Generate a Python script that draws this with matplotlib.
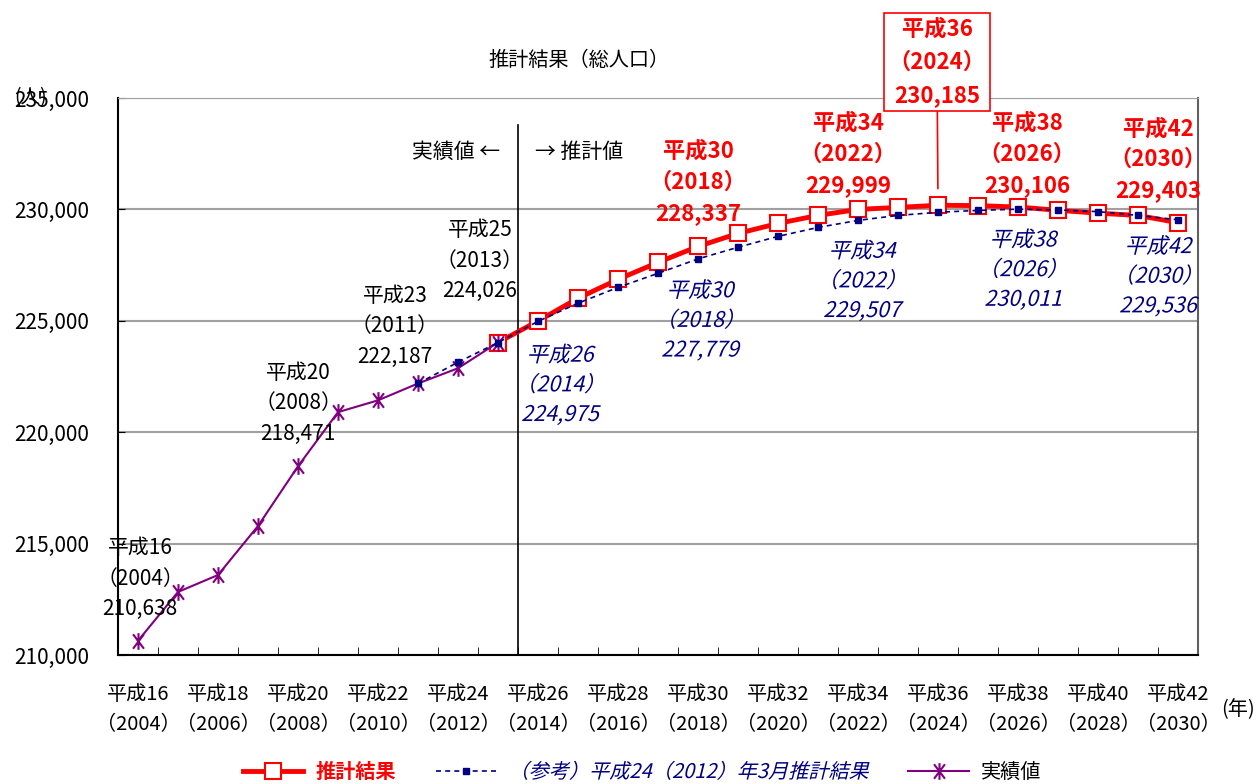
import matplotlib
matplotlib.use("Agg")
import matplotlib.pyplot as plt
from matplotlib.patheffects import AbstractPathEffect
from matplotlib.transforms import Affine2D
from matplotlib.path import Path

plt.rcParams['font.family'] = ['Noto Sans CJK JP', 'DejaVu Sans']

# data (人)
years = list(range(2004, 2031))
actual_years = list(range(2004, 2014))
actual = [210638, 212830, 213590, 215790, 218471, 220900, 221430, 222187, 222870, 224026]
est_years = list(range(2013, 2031))
estimate = [224026, 224990, 226010, 226860, 227620, 228337, 228920, 229370, 229730,
            229999, 230090, 230185, 230170, 230106, 229960, 229830, 229730, 229403]
ref_years = list(range(2011, 2031))
reference = [222187, 223140, 224026, 224975, 225790, 226500, 227130, 227779, 228300,
             228790, 229190, 229507, 229730, 229870, 229955, 230011, 229975, 229900,
             229730, 229536]

actual_lab = [2004, 2008, 2011, 2013]
est_lab = [2018, 2022, 2026, 2030]
ref_lab = [2014, 2018, 2022, 2026, 2030]
peak_year = 2024


class Slant(AbstractPathEffect):
    # fake italic: the CJK font has no italic face
    def draw_path(self, renderer, gc, tpath, affine, rgbFace=None):
        renderer.draw_path(gc, tpath, Affine2D().skew_deg(14, 0) + affine, rgbFace)


def idx(y):
    return years.index(y)


def val(ys, vs, y):
    return vs[ys.index(y)]


def heisei(y):
    return f"平成{y - 1988}\n（{y}）"


ast = Path([(-0.75, -1), (0.75, 1), (0.75, -1), (-0.75, 1), (0, -1.15), (0, 1.15)],
           [Path.MOVETO, Path.LINETO, Path.MOVETO, Path.LINETO, Path.MOVETO, Path.LINETO])

fig = plt.figure(figsize=(12.6, 7.84), dpi=100)
ax = fig.add_axes([118 / 1260, 1 - 655 / 784, 1080 / 1260, 557 / 784])

red = '#ff0000'
navy = '#000080'
purple = '#800080'

ax.plot([idx(y) for y in est_years], estimate, color=red, lw=3.5, marker='s', ms=12,
        mfc='white', mec=red, mew=1.5, zorder=3, label='推計結果')
ax.plot([idx(y) for y in actual_years], actual, color=purple, lw=1.5, marker=ast, ms=12,
        mew=1.5, zorder=4, label='実績値')
ax.plot([idx(y) for y in ref_years], reference, color=navy, lw=1.2, ls=(0, (3, 2.5)),
        marker='s', ms=4.5, zorder=5, label='（参考）平成24（2012）年3月推計結果')

ax.set_xlim(-0.5, 26.5)
ax.set_ylim(210000, 235000)
ax.set_yticks(range(210000, 235001, 5000))
ax.set_yticklabels([f"{v:,}" for v in range(210000, 235001, 5000)])
ax.yaxis.grid(True, color='#a0a0a0', lw=1.5)
ax.set_axisbelow(True)
ax.tick_params(axis='y', direction='in', length=5, pad=21, labelsize=15)

ax.set_xticks([i - 0.5 for i in range(28)], minor=True)
ax.set_xticks([idx(y) for y in years[::2]])
ax.set_xticklabels([heisei(y) for y in years[::2]], linespacing=1.55)
ax.tick_params(axis='x', which='minor', direction='in', length=6)
ax.tick_params(axis='x', which='major', length=0, pad=21, labelsize=14.5)

for s in ['left', 'bottom', 'right']:
    ax.spines[s].set_color('black')
    ax.spines[s].set_linewidth(1.5)
ax.spines['top'].set_color('#a0a0a0')
ax.spines['right'].set_color('#606060')

# divider between actual and estimate
ax.axvline(idx(2013) + 0.5, ymax=0.951, color='black', lw=1.2, zorder=2)
fig.text(500 / 1260, 1 - 152 / 784, '実績値 ←', ha='right', va='center', fontsize=15)
fig.text(535 / 1260, 1 - 152 / 784, '→ 推計値', ha='left', va='center', fontsize=15)

# data labels (offsets in pixels)
act_off = {2004: (2, 62), 2008: (0, 63), 2011: (-23, 57), 2013: (-18, 82)}
for y in actual_lab:
    v = val(actual_years, actual, y)
    ax.annotate(heisei(y) + f"\n{v:,}", (idx(y), v), xytext=act_off[y],
                textcoords='offset pixels', ha='center', va='center', fontsize=15,
                linespacing=1.5, zorder=6)

est_off = {2018: (0, 64), 2022: (-10, 55), 2026: (9, 53), 2030: (-20, 63)}
for y in est_lab:
    v = val(est_years, estimate, y)
    ax.annotate(heisei(y) + f"\n{v:,}", (idx(y), v), xytext=est_off[y],
                textcoords='offset pixels', ha='center', va='center', fontsize=16,
                fontweight='bold', color=red, linespacing=1.45, zorder=6)

pv = val(est_years, estimate, peak_year)
ax.annotate(heisei(peak_year) + f"\n{pv:,}", (idx(peak_year), pv), xytext=(-1, 143),
            textcoords='offset pixels', ha='center', va='center', fontsize=16,
            fontweight='bold', color=red, linespacing=1.55, zorder=6,
            bbox=dict(boxstyle='square,pad=0.2', fc='white', ec=red, lw=1.2),
            arrowprops=dict(arrowstyle='-', color=red, lw=1.2, shrinkA=0, shrinkB=12),
            annotation_clip=False)

ref_off = {2014: (22, -64), 2018: (2, -62), 2022: (4, -61), 2026: (5, -61), 2030: (-20, -57)}
for y in ref_lab:
    v = val(ref_years, reference, y)
    ax.annotate(heisei(y) + f"\n{v:,}", (idx(y), v), xytext=ref_off[y],
                textcoords='offset pixels', ha='center', va='center', fontsize=15.5,
                color=navy, linespacing=1.45, zorder=6, path_effects=[Slant()])

fig.text(579 / 1260, 1 - 60 / 784, '推計結果（総人口）', ha='center', va='center', fontsize=14.5)
fig.text(14 / 1260, 1 - 98 / 784, '(人)', ha='left', va='center', fontsize=14)
fig.text(1221 / 1260, 1 - 710 / 784, '(年)', ha='left', va='center', fontsize=14.5)

handles, labels = ax.get_legend_handles_labels()
order = [0, 2, 1]
leg = fig.legend([handles[i] for i in order], [labels[i] for i in order],
                 loc='center', bbox_to_anchor=(642 / 1260, 1 - 772 / 784), ncol=3,
                 frameon=False, fontsize=14.5, handlelength=3, columnspacing=2.0,
                 handletextpad=0.6)
txt = leg.get_texts()
txt[0].set_color(red)
txt[0].set_fontweight('bold')
txt[1].set_color(navy)
txt[1].set_path_effects([Slant()])

fig.savefig('out.png', dpi=100)
